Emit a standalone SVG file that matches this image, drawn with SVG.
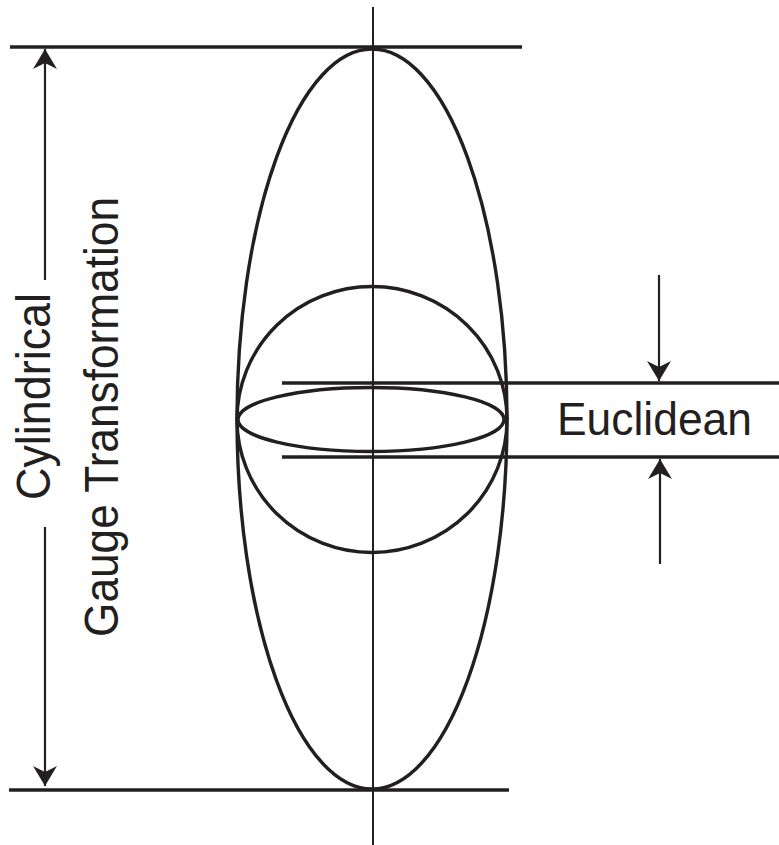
<svg xmlns="http://www.w3.org/2000/svg" width="779" height="845" viewBox="0 0 779 845">
<style>
.thick{stroke:#231f20;stroke-width:3.4;fill:none}
.thin{stroke:#231f20;stroke-width:2;fill:none}
.arr{stroke:#231f20;stroke-width:2.2;fill:none;marker-end:url(#ah)}
.lbl{font-family:"Liberation Sans",Arial,sans-serif;fill:#231f20}
</style>
<defs>
<marker id="ah" viewBox="0 0 20 24" refX="20" refY="12" markerWidth="20" markerHeight="24" markerUnits="userSpaceOnUse" orient="auto">
<path d="M20,12 L0,0 L6,12 L0,24 Z" fill="#231f20"/>
</marker>
</defs>
<rect width="779" height="845" fill="#fff"/>
<g id="shapes">
<ellipse id="tall-ellipse" class="thick" cx="372" cy="419" rx="135" ry="370"/>
<ellipse id="circle" class="thick" cx="372" cy="419.5" rx="135" ry="133"/>
<ellipse id="flat-ellipse" class="thick" cx="371" cy="419.5" rx="133" ry="32"/>
</g>
<g id="connectors">
<line id="axis" class="thin" x1="373" y1="7" x2="373" y2="845"/>
<line id="top-line" class="thick" x1="10" y1="47" x2="522" y2="47"/>
<line id="bottom-line" class="thick" x1="9" y1="790" x2="509" y2="790"/>
<line id="upper-line" class="thick" x1="282" y1="383" x2="779" y2="383"/>
<line id="lower-line" class="thick" x1="282" y1="457" x2="779" y2="457"/>
<line class="arr" x1="45" y1="280" x2="45" y2="49"/>
<line class="arr" x1="45" y1="527" x2="45" y2="786"/>
<line class="arr" x1="659" y1="275" x2="659" y2="381"/>
<line class="arr" x1="660" y1="564" x2="660" y2="459"/>
</g>
<g id="label-cylindrical">
<text class="lbl" font-size="48" transform="translate(50,500) rotate(-90)" textLength="207" lengthAdjust="spacingAndGlyphs">Cylindrical</text>
</g>
<g id="label-gauge">
<text class="lbl" font-size="48" transform="translate(118,637) rotate(-90)" textLength="440" lengthAdjust="spacingAndGlyphs">Gauge Transformation</text>
</g>
<g id="label-euclidean">
<text class="lbl" font-size="46" x="557" y="435" textLength="195" lengthAdjust="spacingAndGlyphs">Euclidean</text>
</g>
</svg>
